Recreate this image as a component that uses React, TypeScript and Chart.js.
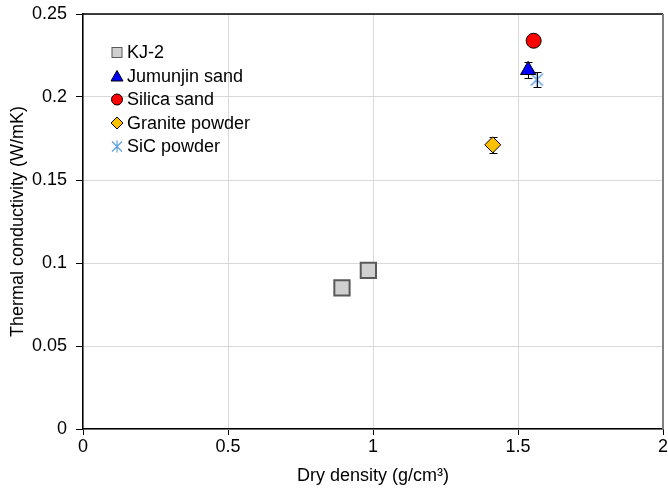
import { useEffect, useRef } from "react";
import { Chart, registerables } from "chart.js";

Chart.register(...registerables);

const seriesNames = ["KJ-2", "Jumunjin sand", "Silica sand", "Granite powder", "SiC powder"];
const kj2Density = [0.893, 0.984];
const kj2Conductivity = [0.085, 0.0955];
const jumunjinDensity = [1.535];
const jumunjinConductivity = [0.2162];
const jumunjinError = [0.005];
const silicaDensity = [1.554];
const silicaConductivity = [0.2339];
const graniteDensity = [1.413];
const graniteConductivity = [0.1712];
const graniteError = [0.005];
const sicDensity = [1.565];
const sicConductivity = [0.2105];
const sicError = [0.0045];
const xTicks = [0, 0.5, 1, 1.5, 2];
const yTicks = [0, 0.05, 0.1, 0.15, 0.2, 0.25];

const FONT = "'Liberation Sans', Arial, sans-serif";
const FS = 18;
const SIC_COLOR = "#5FA0DE";

function pts(xs: number[], ys: number[]) {
  return xs.map((x, i) => ({ x, y: ys[i] }));
}

function makeStar(size: number, lw: number) {
  const c = document.createElement("canvas");
  c.width = size;
  c.height = size;
  const g = c.getContext("2d")!;
  g.strokeStyle = SIC_COLOR;
  g.lineWidth = lw;
  const m = size / 2;
  const r = size / 2 - 1;
  const d = r * 0.8;
  g.beginPath();
  g.moveTo(m, m - r);
  g.lineTo(m, m + r);
  g.moveTo(m - d, m - d);
  g.lineTo(m + d, m + d);
  g.moveTo(m + d, m - d);
  g.lineTo(m - d, m + d);
  g.stroke();
  return c;
}

function drawMarker(ctx: CanvasRenderingContext2D, kind: number, x: number, y: number) {
  ctx.save();
  ctx.lineWidth = 1;
  if (kind === 0) {
    ctx.fillStyle = "#D0D0D0";
    ctx.strokeStyle = "#595959";
    ctx.fillRect(x - 5, y - 5, 10, 10);
    ctx.strokeRect(x - 5, y - 5, 10, 10);
  } else if (kind === 1) {
    ctx.fillStyle = "#0000FF";
    ctx.strokeStyle = "#000";
    ctx.beginPath();
    ctx.moveTo(x, y - 5.5);
    ctx.lineTo(x + 6, y + 5);
    ctx.lineTo(x - 6, y + 5);
    ctx.closePath();
    ctx.fill();
    ctx.stroke();
  } else if (kind === 2) {
    ctx.fillStyle = "#FF0000";
    ctx.strokeStyle = "#000";
    ctx.beginPath();
    ctx.arc(x, y, 5.5, 0, Math.PI * 2);
    ctx.fill();
    ctx.stroke();
  } else if (kind === 3) {
    ctx.fillStyle = "#FFC000";
    ctx.strokeStyle = "#000";
    ctx.beginPath();
    ctx.moveTo(x, y - 6);
    ctx.lineTo(x + 6, y);
    ctx.lineTo(x, y + 6);
    ctx.lineTo(x - 6, y);
    ctx.closePath();
    ctx.fill();
    ctx.stroke();
  } else {
    ctx.strokeStyle = SIC_COLOR;
    ctx.lineWidth = 1.2;
    ctx.beginPath();
    ctx.moveTo(x, y - 6);
    ctx.lineTo(x, y + 6);
    ctx.moveTo(x - 5, y - 5);
    ctx.lineTo(x + 5, y + 5);
    ctx.moveTo(x + 5, y - 5);
    ctx.lineTo(x - 5, y + 5);
    ctx.stroke();
  }
  ctx.restore();
}

function zeroPadding(s: any) {
  s.paddingLeft = 0;
  s.paddingRight = 0;
  s.paddingTop = 0;
  s.paddingBottom = 0;
}

export default function App() {
  const ref = useRef<HTMLCanvasElement | null>(null);

  useEffect(() => {
    document.body.style.margin = "0";
    const canvas = ref.current;
    if (!canvas) return;

    const errors: Record<number, number[]> = { 1: jumunjinError, 3: graniteError, 4: sicError };

    function drawErrors(chart: any, which: number[]) {
      const ctx = chart.ctx as CanvasRenderingContext2D;
      const xs = chart.scales.x;
      const ys = chart.scales.y;
      ctx.save();
      ctx.strokeStyle = "#000";
      ctx.lineWidth = 1;
      for (const di of which) {
        const ds = chart.data.datasets[di];
        const errs = errors[di];
        ds.data.forEach((p: any, i: number) => {
          const e = errs[i];
          const px = Math.round(xs.getPixelForValue(p.x)) + 0.5;
          const top = Math.round(ys.getPixelForValue(p.y + e)) + 0.5;
          const bot = Math.round(ys.getPixelForValue(p.y - e)) + 0.5;
          ctx.beginPath();
          ctx.moveTo(px, top);
          ctx.lineTo(px, bot);
          ctx.moveTo(px - 4, top);
          ctx.lineTo(px + 4, top);
          ctx.moveTo(px - 4, bot);
          ctx.lineTo(px + 4, bot);
          ctx.stroke();
        });
      }
      ctx.restore();
    }

    const errorBars = {
      id: "errorBars",
      beforeDatasetsDraw(chart: any) {
        drawErrors(chart, [1, 3]);
      },
      afterDatasetsDraw(chart: any) {
        drawErrors(chart, [4]);
      },
    };

    const frameAndLegend = {
      id: "frameAndLegend",
      afterDraw(chart: any) {
        const ctx = chart.ctx as CanvasRenderingContext2D;
        const a = chart.chartArea;
        ctx.save();
        ctx.strokeStyle = "#000";
        ctx.lineWidth = 1.5;
        ctx.beginPath();
        ctx.moveTo(a.left, a.top);
        ctx.lineTo(a.right, a.top);
        ctx.stroke();
        ctx.strokeStyle = "#808080";
        ctx.lineWidth = 2;
        ctx.beginPath();
        ctx.moveTo(a.right, a.top);
        ctx.lineTo(a.right, a.bottom);
        ctx.stroke();

        const mx = a.left + 34;
        const tx = a.left + 44;
        const y0 = a.top + 38.5;
        const dy = 23.5;
        ctx.font = `${FS}px ${FONT}`;
        ctx.fillStyle = "#000";
        ctx.textBaseline = "middle";
        ctx.textAlign = "left";
        seriesNames.forEach((name, i) => {
          const y = y0 + i * dy;
          drawMarker(ctx, i, mx, y);
          ctx.fillText(name, tx, y + 1);
        });
        ctx.restore();
      },
    };

    const star = makeStar(17, 1.5);

    const chart = new Chart(canvas, {
      type: "scatter",
      data: {
        datasets: [
          {
            label: seriesNames[0],
            data: pts(kj2Density, kj2Conductivity),
            pointStyle: "rect",
            pointRadius: 10.8,
            backgroundColor: "#D0D0D0",
            borderColor: "#595959",
            borderWidth: 2,
          },
          {
            label: seriesNames[1],
            data: pts(jumunjinDensity, jumunjinConductivity),
            pointStyle: "triangle",
            pointRadius: 8.8,
            backgroundColor: "#0000FF",
            borderColor: "#000",
            borderWidth: 1,
          },
          {
            label: seriesNames[2],
            data: pts(silicaDensity, silicaConductivity),
            pointStyle: "circle",
            pointRadius: 7.5,
            backgroundColor: "#FF0000",
            borderColor: "#000",
            borderWidth: 1,
          },
          {
            label: seriesNames[3],
            data: pts(graniteDensity, graniteConductivity),
            pointStyle: "rectRot",
            pointRadius: 8,
            backgroundColor: "#FFC000",
            borderColor: "#000",
            borderWidth: 1,
          },
          {
            label: seriesNames[4],
            data: pts(sicDensity, sicConductivity),
            pointStyle: star as any,
            pointRadius: 8,
            backgroundColor: SIC_COLOR,
            borderColor: SIC_COLOR,
          },
        ],
      },
      options: {
        responsive: false,
        animation: false,
        events: [],
        layout: { autoPadding: false, padding: { left: 0, top: 14, right: 5, bottom: 0 } },
        plugins: {
          legend: { display: false },
          tooltip: { enabled: false },
        },
        scales: {
          x: {
            type: "linear",
            min: 0,
            max: 2,
            afterBuildTicks: (s: any) => {
              s.ticks = xTicks.map((v) => ({ value: v }));
            },
            afterFit: (s: any) => {
              s.height = 60;
              zeroPadding(s);
            },
            ticks: {
              color: "#000",
              font: { family: FONT, size: FS },
              padding: 1,
              maxRotation: 0,
              callback: (v: any) => String(v),
            },
            grid: { color: "#D9D9D9", tickColor: "#000", tickLength: 6, lineWidth: 1 },
            border: { color: "#000", width: 1.5 },
            title: {
              display: true,
              text: "Dry density (g/cm³)",
              color: "#000",
              font: { family: FONT, size: FS },
              padding: { top: 0, bottom: 2 },
            },
          },
          y: {
            type: "linear",
            min: 0,
            max: 0.25,
            afterBuildTicks: (s: any) => {
              s.ticks = yTicks.map((v) => ({ value: v }));
            },
            afterFit: (s: any) => {
              s.width = 83;
              zeroPadding(s);
            },
            ticks: {
              color: "#000",
              font: { family: FONT, size: FS },
              padding: 9,
              callback: (v: any) => String(v),
            },
            grid: { color: "#D9D9D9", tickColor: "#000", tickLength: 7, lineWidth: 1 },
            border: { color: "#000", width: 1.5 },
            title: {
              display: true,
              text: "Thermal conductivity (W/mK)",
              color: "#000",
              font: { family: FONT, size: FS },
              padding: { top: 7, bottom: 0 },
            },
          },
        },
      },
      plugins: [errorBars, frameAndLegend],
    } as any);

    return () => chart.destroy();
  }, []);

  return (
    <div style={{ width: 668, height: 489 }}>
      <canvas ref={ref} width={668} height={489} style={{ display: "block" }} />
    </div>
  );
}
